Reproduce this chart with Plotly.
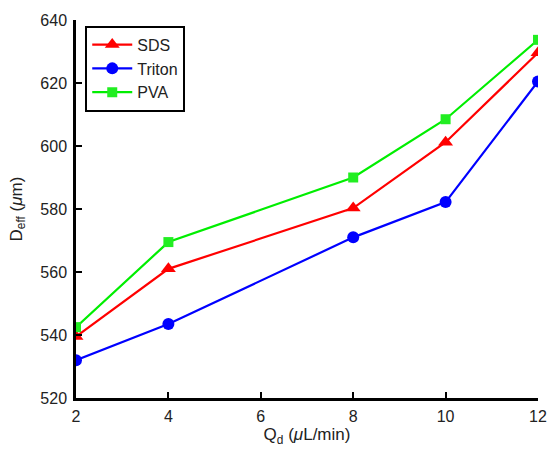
import plotly.graph_objects as go

qd = [2, 4, 8, 10, 12]
sds = [539.5, 561, 580.3, 601.2, 629.6]
triton = [532, 543.5, 571, 582.2, 620.5]
pva = [542.5, 569.5, 590, 608.5, 633.7]

fig = go.Figure()
fig.add_trace(go.Scatter(x=qd, y=sds, name="SDS", mode="lines+markers",
                         line=dict(color="#ff0000", width=2.2),
                         marker=dict(symbol="triangle-up", size=13, color="#ff0000")))
fig.add_trace(go.Scatter(x=qd, y=triton, name="Triton", mode="lines+markers",
                         line=dict(color="#0000ff", width=2.2),
                         marker=dict(symbol="circle", size=12, color="#0000ff")))
fig.add_trace(go.Scatter(x=qd, y=pva, name="PVA", mode="lines+markers",
                         line=dict(color="#00ee00", width=2.2),
                         marker=dict(symbol="square", size=10, color="#22ee22")))

font = "Liberation Sans, Arial, sans-serif"
fig.update_layout(
    width=558, height=456,
    margin=dict(l=76, r=20, t=20, b=58),
    paper_bgcolor="white", plot_bgcolor="white",
    font=dict(family=font, size=16, color="#222"),
    showlegend=True,
    legend=dict(x=0.02, y=0.985, xanchor="left", yanchor="top",
                bordercolor="black", borderwidth=2, bgcolor="white",
                font=dict(size=16, color="#222"), tracegroupgap=0,
                itemwidth=40),
    xaxis=dict(range=[2, 12], tickvals=[2, 4, 6, 8, 10, 12], automargin=False,
               ticklabeloverflow="allow",
               showline=True, linecolor="black", linewidth=2.5,
               ticks="inside", ticklen=6, tickwidth=2, tickcolor="black",
               ticklabelstandoff=2,
               showgrid=False, zeroline=False,
               title=dict(text="Q<sub>d</sub> (<i>μ</i>L/min)", font=dict(size=17), standoff=4)),
    yaxis=dict(range=[520, 640], tickvals=[520, 540, 560, 580, 600, 620, 640], automargin=False,
               ticklabeloverflow="allow",
               showline=True, linecolor="black", linewidth=2.5,
               ticks="inside", ticklen=6, tickwidth=2, tickcolor="black",
               ticklabelstandoff=3,
               showgrid=False, zeroline=False,
               title=dict(text="D<sub>eff</sub> (<i>μ</i>m)", font=dict(size=17), standoff=14)),
)

fig.write_html(
    "out.html",
    post_script="document.body.style.margin='0';document.body.style.overflow='hidden';"
                "document.documentElement.style.overflow='hidden';",
)
